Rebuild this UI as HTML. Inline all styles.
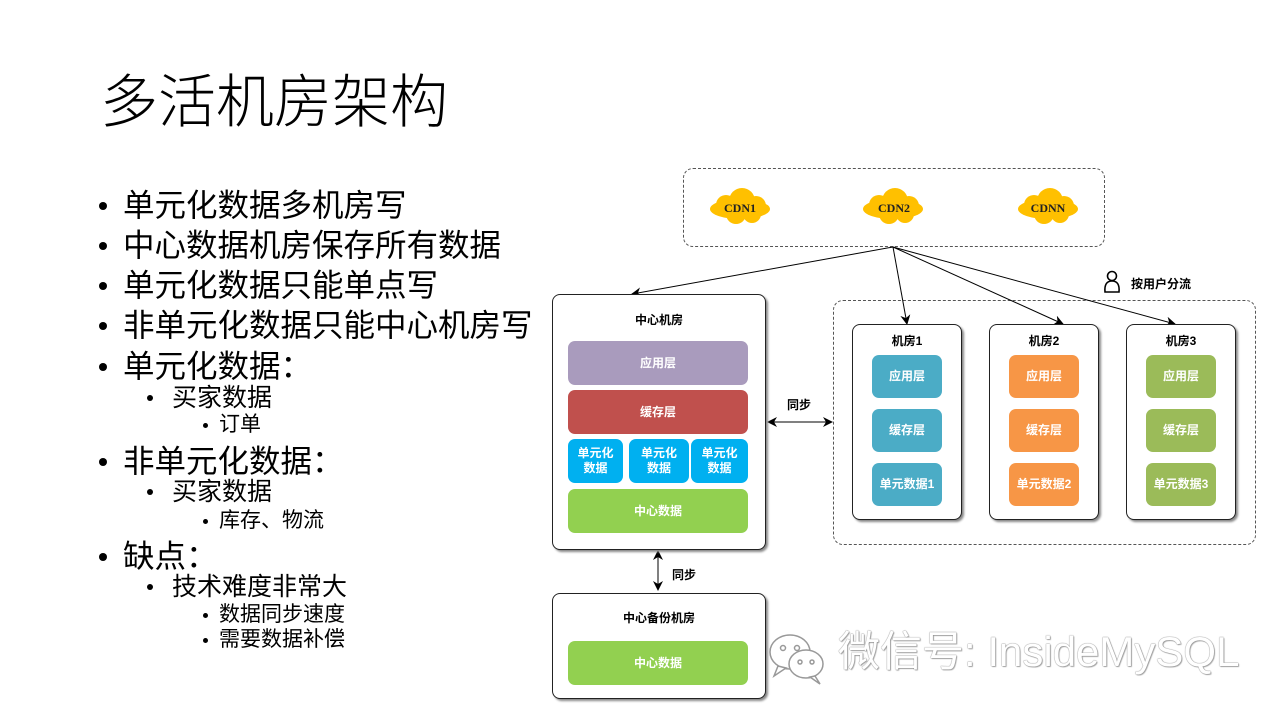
<!DOCTYPE html>
<html><head><meta charset="utf-8">
<style>
body{margin:0;width:1280px;height:720px;background:#fff;position:relative;overflow:hidden;font-family:"Liberation Sans","Noto Sans CJK SC",sans-serif;}
.a{position:absolute;white-space:nowrap;}
.t{font-size:58px;left:100px;top:68px;line-height:70px;font-weight:300;}
.l1{font-size:31.5px;left:123px;line-height:40px;}
.l2{font-size:25px;left:172px;line-height:32px;}
.l3{font-size:21px;left:219px;line-height:26px;}
.d{position:absolute;border-radius:50%;background:#000;}
.box{position:absolute;border:1.5px solid #222;border-radius:8px;background:#fff;box-shadow:2px 2px 2px #888;}
.blk{position:absolute;border-radius:7px;color:#fff;font-size:12px;font-weight:bold;display:flex;align-items:center;justify-content:center;text-align:center;line-height:15px;}
.lab{position:absolute;font-size:12px;font-weight:bold;text-align:center;}
.dash{position:absolute;border:1.2px dashed #555;border-radius:10px;}
</style></head><body>
<div class="a t">多活机房架构</div>
<div class="a l1" style="top:185px">单元化数据多机房写</div>
<div class="a l1" style="top:225px">中心数据机房保存所有数据</div>
<div class="a l1" style="top:265px">单元化数据只能单点写</div>
<div class="a l1" style="top:305px">非单元化数据只能中心机房写</div>
<div class="a l1" style="top:346px">单元化数据：</div>
<div class="a l2" style="top:382px">买家数据</div>
<div class="a l3" style="top:412px">订单</div>
<div class="a l1" style="top:441px">非单元化数据：</div>
<div class="a l2" style="top:476px">买家数据</div>
<div class="a l3" style="top:508px">库存、物流</div>
<div class="a l1" style="top:536px">缺点：</div>
<div class="a l2" style="top:571px">技术难度非常大</div>
<div class="a l3" style="top:602px">数据同步速度</div>
<div class="a l3" style="top:627px">需要数据补偿</div>
<div class="d" style="left:99px;top:202px;width:8px;height:8px"></div>
<div class="d" style="left:99px;top:242px;width:8px;height:8px"></div>
<div class="d" style="left:99px;top:282px;width:8px;height:8px"></div>
<div class="d" style="left:99px;top:322px;width:8px;height:8px"></div>
<div class="d" style="left:99px;top:363px;width:8px;height:8px"></div>
<div class="d" style="left:99px;top:458px;width:8px;height:8px"></div>
<div class="d" style="left:99px;top:553px;width:8px;height:8px"></div>
<div class="d" style="left:147px;top:395px;width:6px;height:6px"></div>
<div class="d" style="left:147px;top:489px;width:6px;height:6px"></div>
<div class="d" style="left:147px;top:584px;width:6px;height:6px"></div>
<div class="d" style="left:203px;top:423px;width:5px;height:5px"></div>
<div class="d" style="left:203px;top:519px;width:5px;height:5px"></div>
<div class="d" style="left:203px;top:613px;width:5px;height:5px"></div>
<div class="d" style="left:203px;top:638px;width:5px;height:5px"></div>

<div class="dash" style="left:683px;top:168px;width:420px;height:77px"></div>
<div class="dash" style="left:833px;top:300px;width:421px;height:243px"></div>

<svg class="a" style="left:0;top:0" width="1280" height="720">
<defs><marker id="m" markerWidth="10" markerHeight="10" refX="9" refY="5" orient="auto" markerUnits="userSpaceOnUse"><path d="M0,0 L10,5 L0,10 L3,5z" fill="#000"/></marker>
<g id="cl"><ellipse cx="0" cy="2" rx="30" ry="10" fill="#FFC000"/><circle cx="-14" cy="-2" r="10" fill="#FFC000"/><circle cx="2" cy="-6" r="13" fill="#FFC000"/><circle cx="16" cy="-1" r="10" fill="#FFC000"/><circle cx="-4" cy="7" r="10" fill="#FFC000"/><circle cx="12" cy="7" r="9" fill="#FFC000"/></g></defs>
<use href="#cl" x="740" y="207"/><use href="#cl" x="893" y="207"/><use href="#cl" x="1048" y="207"/>
<g stroke="#000" stroke-width="1" fill="none">
<line x1="893" y1="247" x2="632" y2="294" marker-end="url(#m)"/>
<line x1="893" y1="247" x2="907" y2="324" marker-end="url(#m)"/>
<line x1="893" y1="247" x2="1063" y2="324" marker-end="url(#m)"/>
<line x1="893" y1="247" x2="1175" y2="324" marker-end="url(#m)"/>
<line x1="780" y1="422" x2="832" y2="422" marker-end="url(#m)"/>
<line x1="820" y1="422" x2="768" y2="422" marker-end="url(#m)"/>
<line x1="658" y1="560" x2="658" y2="590" marker-end="url(#m)"/>
<line x1="658" y1="580" x2="658" y2="551" marker-end="url(#m)"/>
<circle cx="1112" cy="276" r="4.5" stroke-width="1.6"/>
<path d="M1105,292 Q1104,281 1112,281 Q1120,281 1119,292 Z" stroke-width="1.6"/>
</g>
<g stroke="#999" stroke-width="1.5" fill="#fff">
<ellipse cx="790" cy="652" rx="20" ry="17"/>
<path d="M778,666 L774,676 L786,668z"/>
<ellipse cx="806" cy="664" rx="17" ry="14"/>
<path d="M815,676 L820,684 L810,677z"/>
<circle cx="783" cy="648" r="2.5"/><circle cx="797" cy="648" r="2.5"/>
<circle cx="800" cy="662" r="2"/><circle cx="812" cy="662" r="2"/>
</g>
<g font-family="Liberation Serif" font-size="12" font-weight="bold" text-anchor="middle" fill="#222">
<text x="740" y="212">CDN1</text><text x="894" y="212">CDN2</text><text x="1048" y="212">CDNN</text></g>
</svg>
<div class="lab" style="left:1131px;top:275px">按用户分流</div>
<div class="lab" style="left:787px;top:396px">同步</div>
<div class="lab" style="left:672px;top:566px">同步</div>

<div class="box" style="left:552px;top:294px;width:212px;height:254px"></div>
<div class="lab" style="left:552px;top:311px;width:214px">中心机房</div>
<div class="blk" style="left:568px;top:341px;width:180px;height:44px;background:#A99BBD">应用层</div>
<div class="blk" style="left:568px;top:390px;width:180px;height:44px;background:#C0504D">缓存层</div>
<div class="blk" style="left:568px;top:439px;width:55px;height:44px;background:#00B0F0">单元化<br>数据</div>
<div class="blk" style="left:629px;top:439px;width:60px;height:44px;background:#00B0F0">单元化<br>数据</div>
<div class="blk" style="left:691px;top:439px;width:57px;height:44px;background:#00B0F0">单元化<br>数据</div>
<div class="blk" style="left:568px;top:489px;width:180px;height:44px;background:#92D050">中心数据</div>

<div class="box" style="left:552px;top:593px;width:212px;height:104px"></div>
<div class="lab" style="left:552px;top:609px;width:214px">中心备份机房</div>
<div class="blk" style="left:568px;top:641px;width:180px;height:44px;background:#92D050">中心数据</div>

<div class="box" style="left:852px;top:324px;width:108px;height:194px"></div>
<div class="lab" style="left:852px;top:332px;width:110px">机房1</div>
<div class="blk" style="left:872px;top:355px;width:70px;height:43px;background:#4BACC6">应用层</div>
<div class="blk" style="left:872px;top:409px;width:70px;height:43px;background:#4BACC6">缓存层</div>
<div class="blk" style="left:872px;top:463px;width:70px;height:43px;background:#4BACC6">单元数据1</div>

<div class="box" style="left:989px;top:324px;width:108px;height:194px"></div>
<div class="lab" style="left:989px;top:332px;width:110px">机房2</div>
<div class="blk" style="left:1009px;top:355px;width:70px;height:43px;background:#F79646">应用层</div>
<div class="blk" style="left:1009px;top:409px;width:70px;height:43px;background:#F79646">缓存层</div>
<div class="blk" style="left:1009px;top:463px;width:70px;height:43px;background:#F79646">单元数据2</div>

<div class="box" style="left:1126px;top:324px;width:108px;height:194px"></div>
<div class="lab" style="left:1126px;top:332px;width:110px">机房3</div>
<div class="blk" style="left:1146px;top:355px;width:70px;height:43px;background:#9BBB59">应用层</div>
<div class="blk" style="left:1146px;top:409px;width:70px;height:43px;background:#9BBB59">缓存层</div>
<div class="blk" style="left:1146px;top:463px;width:70px;height:43px;background:#9BBB59">单元数据3</div>

<div class="a" style="left:838px;top:627px;font-size:42px;line-height:50px;color:#fff;text-shadow:0 0 1px #888,0 0 1px #888,1px 1px 1px #aaa;">微信号: InsideMySQL</div>
</body></html>
